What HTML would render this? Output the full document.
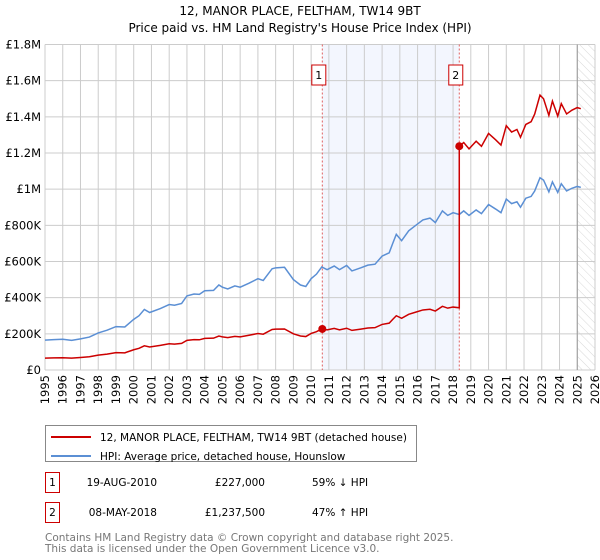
<!DOCTYPE html>
<html><head><meta charset="utf-8"><style>
html,body{margin:0;padding:0;background:#fff;}
svg{display:block;font-family:"DejaVu Sans","Liberation Sans",sans-serif;}
</style></head><body>
<svg id="chart" width="600" height="560" viewBox="0 0 600 560">
<defs>
<pattern id="hatch" width="6" height="6" patternUnits="userSpaceOnUse" patternTransform="rotate(-45)">
<line x1="0" y1="0" x2="0" y2="6" stroke="#d8d8d8" stroke-width="1"/>
</pattern>
</defs>
<text x="300" y="15" text-anchor="middle" font-size="12">12, MANOR PLACE, FELTHAM, TW14 9BT</text>
<text x="300" y="32" text-anchor="middle" font-size="12">Price paid vs. HM Land Registry's House Price Index (HPI)</text>
<g id="plot"></g>
<g>
<rect x="45.5" y="425.5" width="371" height="36" fill="#fff" stroke="#888"/>
<line x1="51" y1="437" x2="91" y2="437" stroke="#cc0000" stroke-width="2"/>
<text x="100" y="441" font-size="10.5">12, MANOR PLACE, FELTHAM, TW14 9BT (detached house)</text>
<line x1="51" y1="456" x2="91" y2="456" stroke="#5b8fd4" stroke-width="2"/>
<text x="100" y="460" font-size="10.5">HPI: Average price, detached house, Hounslow</text>
</g>
<g font-size="10.5">
<rect x="45.5" y="472.5" width="14" height="20" fill="#fff" stroke="#cc0000"/>
<text x="52.5" y="486" text-anchor="middle">1</text>
<text x="157" y="486" text-anchor="end">19-AUG-2010</text>
<text x="265" y="486" text-anchor="end">£227,000</text>
<text x="312" y="486">59% ↓ HPI</text>
<rect x="45.5" y="502.5" width="14" height="20" fill="#fff" stroke="#cc0000"/>
<text x="52.5" y="516" text-anchor="middle">2</text>
<text x="157" y="516" text-anchor="end">08-MAY-2018</text>
<text x="265" y="516" text-anchor="end">£1,237,500</text>
<text x="312" y="516">47% ↑ HPI</text>
</g>
<text x="45" y="541" font-size="10.5" fill="#777">Contains HM Land Registry data © Crown copyright and database right 2025.</text>
<text x="45" y="552" font-size="10.5" fill="#777">This data is licensed under the Open Government Licence v3.0.</text>
</svg>
<script>
const yTicks = [0,200000,400000,600000,800000,1000000,1200000,1400000,1600000,1800000];
const yTickLabels = ["£0","£200K","£400K","£600K","£800K","£1M","£1.2M","£1.4M","£1.6M","£1.8M"];
const xYears = [1995,1996,1997,1998,1999,2000,2001,2002,2003,2004,2005,2006,2007,2008,2009,2010,2011,2012,2013,2014,2015,2016,2017,2018,2019,2020,2021,2022,2023,2024,2025,2026];
const hpiYears = [1995.0,1995.5,1996.0,1996.5,1997.0,1997.5,1998.0,1998.5,1999.0,1999.5,2000.0,2000.3,2000.6,2000.9,2001.5,2002.0,2002.3,2002.7,2003.0,2003.4,2003.7,2004.0,2004.5,2004.8,2005.0,2005.3,2005.7,2006.0,2006.5,2007.0,2007.3,2007.8,2008.0,2008.5,2009.0,2009.4,2009.7,2010.0,2010.3,2010.6,2010.9,2011.3,2011.6,2012.0,2012.3,2012.8,2013.2,2013.6,2014.0,2014.4,2014.6,2014.8,2015.1,2015.5,2015.9,2016.3,2016.7,2017.0,2017.4,2017.7,2018.0,2018.35,2018.6,2018.9,2019.3,2019.6,2020.0,2020.4,2020.7,2021.0,2021.3,2021.6,2021.8,2022.1,2022.4,2022.6,2022.9,2023.1,2023.4,2023.6,2023.9,2024.1,2024.4,2024.7,2025.0,2025.2];
const hpiValues = [165,168,170,164,172,182,205,220,240,238,280,300,335,318,340,362,358,368,410,420,418,438,440,470,458,448,465,458,480,505,495,560,565,568,500,470,462,505,530,570,555,575,555,578,548,565,580,585,630,648,700,750,715,770,800,830,840,815,880,855,870,860,880,855,885,865,915,890,870,945,920,930,900,950,960,990,1063,1050,985,1040,982,1030,990,1005,1015,1010];
const redYears = [1995.0,1995.5,1996.0,1996.5,1997.0,1997.5,1998.0,1998.5,1999.0,1999.5,2000.0,2000.3,2000.6,2000.9,2001.5,2002.0,2002.3,2002.7,2003.0,2003.4,2003.7,2004.0,2004.5,2004.8,2005.0,2005.3,2005.7,2006.0,2006.5,2007.0,2007.3,2007.8,2008.0,2008.5,2009.0,2009.4,2009.7,2010.0,2010.3,2010.6,2010.9,2011.3,2011.6,2012.0,2012.3,2012.8,2013.2,2013.6,2014.0,2014.4,2014.6,2014.8,2015.1,2015.5,2015.9,2016.3,2016.7,2017.0,2017.4,2017.7,2018.0,2018.35,2018.35,2018.6,2018.9,2019.3,2019.6,2020.0,2020.4,2020.7,2021.0,2021.3,2021.6,2021.8,2022.1,2022.4,2022.6,2022.9,2023.1,2023.4,2023.6,2023.9,2024.1,2024.4,2024.7,2025.0,2025.2];
const redValues = [66,67,68,66,69,73,82,88,96,95,112,120,134,127,136,145,143,147,164,168,167,175,176,188,183,179,186,183,192,202,198,224,226,227,200,188,185,202,212,227,222,230,222,231,219,226,232,234,252,259,280,300,286,308,320,332,336,326,352,342,348,344,1237.5,1258,1223,1265,1237,1308,1273,1244,1351,1316,1330,1287,1358,1373,1415,1520,1500,1408,1487,1404,1473,1416,1437,1451,1445];
const saleYears = [2010.63, 2018.35];
const saleValues = [227000, 1237500];
const saleLabels = ["1","2"];

const NS = "http://www.w3.org/2000/svg";
const L = 45, R = 595, T = 44.5, B = 370;
const X0 = 1995, X1 = 2026, YMAX = 1800000;
function xs(v){ return L + (v - X0) / (X1 - X0) * (R - L); }
function ys(v){ return B - v / YMAX * (B - T); }
function mk(tag, attrs, parent){ const e = document.createElementNS(NS, tag); for (const k in attrs) e.setAttribute(k, attrs[k]); parent.appendChild(e); return e; }
const plot = document.getElementById('plot');

const shade = mk('rect', {x: xs(saleYears[0]), y: T, width: xs(saleYears[1]) - xs(saleYears[0]), height: B - T, fill: '#f3f6fe'}, plot);


const hat = mk('rect', {x: xs(2025), y: T, width: R - xs(2025), height: B - T, fill: 'url(#hatch)'}, plot);



yTicks.forEach((t, i) => {
  const g = mk('line', {x1: L, x2: R, y1: ys(t), y2: ys(t), stroke: '#ccc', 'stroke-width': 1}, plot);
  
  
  const tx = mk('text', {x: L - 4, y: ys(t) + 4, 'text-anchor': 'end', 'font-size': 11.5}, plot);
  tx.textContent = yTickLabels[i];
  
  
});
xYears.forEach(yr => {
  const g = mk('line', {x1: xs(yr), x2: xs(yr), y1: T, y2: B, stroke: '#ccc', 'stroke-width': 1}, plot);
  
  
  const tx = mk('text', {x: 0, y: 0, 'text-anchor': 'end', 'font-size': 11.5, transform: `translate(${xs(yr) + 4},${B + 5}) rotate(-90)`}, plot);
  tx.textContent = yr;
  
  
});
const endLine = mk('line', {x1: xs(2025), x2: xs(2025), y1: T, y2: B, stroke: '#999', 'stroke-width': 1}, plot);



saleYears.forEach((yr, i) => {
  const v = mk('line', {x1: xs(yr), x2: xs(yr), y1: T, y2: B, stroke: '#e06060', 'stroke-width': 1, 'stroke-dasharray': '2,2'}, plot);
  
  
  const bx = mk('rect', {x: xs(yr) - 10.5, y: 65, width: 14, height: 20, fill: '#fff', stroke: '#cc0000'}, plot);
  
  
  const t = mk('text', {x: xs(yr) - 3.5, y: 79, 'text-anchor': 'middle', 'font-size': 11}, plot);
  t.textContent = saleLabels[i];
  
  
});

const hp = mk('polyline', {points: hpiYears.map((y, i) => xs(y) + ',' + ys(hpiValues[i] * 1000)).join(' '), fill: 'none', stroke: '#5b8fd4', 'stroke-width': 1.5}, plot);


const rp = mk('polyline', {points: redYears.map((y, i) => xs(y) + ',' + ys(redValues[i] * 1000)).join(' '), fill: 'none', stroke: '#cc0000', 'stroke-width': 1.5}, plot);


saleYears.forEach((yr, i) => {
  const c = mk('circle', {cx: xs(yr), cy: ys(saleValues[i]), r: 4, fill: '#cc0000'}, plot);
  
  
});
</script>
</body></html>
